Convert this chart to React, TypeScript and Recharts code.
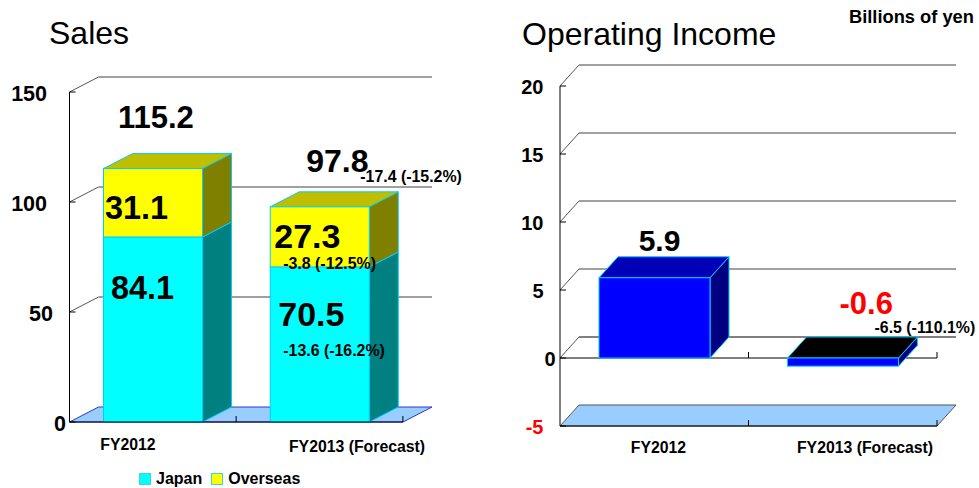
import React from 'react';
import { BarChart, Bar, XAxis, YAxis, CartesianGrid, Legend, LabelList } from 'recharts';

const FONT = '"Liberation Sans", Arial, sans-serif';

const CATEGORIES = ['FY2012', 'FY2013 (Forecast)'];

// Sales
const JAPAN = [84.1, 70.5];
const OVERSEAS = [31.1, 27.3];
const SALES_TOTAL = [115.2, 97.8];
const JAPAN_DELTA = ['', '-13.6 (-16.2%)'];
const OVERSEAS_DELTA = ['', '-3.8 (-12.5%)'];
const TOTAL_DELTA = ['', '-17.4 (-15.2%)'];
const SALES_TICKS = [0, 50, 100, 150];

// Operating income
const INCOME = [5.9, -0.6];
const INCOME_DELTA = ['', '-6.5 (-110.1%)'];
const INCOME_TICKS = [-5, 0, 5, 10, 15, 20];

const salesData = CATEGORIES.map((name, i) => ({
  name,
  japan: JAPAN[i],
  overseas: OVERSEAS[i],
  total: SALES_TOTAL[i],
  japanDelta: JAPAN_DELTA[i],
  overseasDelta: OVERSEAS_DELTA[i],
  totalDelta: TOTAL_DELTA[i],
}));

const incomeData = CATEGORIES.map((name, i) => ({
  name,
  income: INCOME[i],
  delta: INCOME_DELTA[i],
}));

const EDGE = '#00ccff';

// one bar as a front, top and side face
const Box = ({ x, y, width, height, dx, dy, front, top, side }: any) => {
  const y0 = Math.min(y, y + height);
  const h = Math.abs(height);
  const r = x + width;
  return (
    <g stroke={EDGE} strokeWidth={1}>
      <path d={`M${r},${y0}L${r + dx},${y0 - dy}V${y0 + h - dy}L${r},${y0 + h}Z`} fill={side} />
      <path d={`M${x},${y0}L${x + dx},${y0 - dy}H${r + dx}L${r},${y0}Z`} fill={top} />
      <rect x={x} y={y0} width={width} height={h} fill={front} />
    </g>
  );
};

// text placed relative to the corner of its bar
const barText = (offsets: number[][], size: number[], color: any = '#000') => (props: any) => {
  const { value, index } = props;
  if (value === '' || value === undefined) return null;
  const box = props.viewBox ?? props;
  const top = Math.min(box.y, box.y + box.height);
  const fill = typeof color === 'function' ? color(value) : color;
  return (
    <text
      x={box.x + offsets[index][0]}
      y={top + offsets[index][1]}
      fontFamily={FONT}
      fontWeight="bold"
      fontSize={size[index]}
      fill={fill}
    >
      {value}
    </text>
  );
};

// grid line with its diagonal up the side wall, the floor on the lowest one
const wallLine = (dx: number, dy: number, floorEdge: string, zeroAt?: (p: any) => number) => (props: any) => {
  const { x1, x2, y1, key } = props;
  const bottom = props.y + props.height;
  const isFloor = Math.abs(y1 - bottom) < 0.5;
  const isZero = zeroAt ? Math.abs(y1 - zeroAt(props)) < 0.5 : false;
  if (isFloor) {
    return (
      <path
        key={key}
        d={`M${x1},${y1}L${x1 + dx},${y1 - dy}H${x2 + dx}L${x2},${y1}Z`}
        fill="#99ccff"
        stroke={floorEdge}
        strokeWidth={1}
      />
    );
  }
  const mid = (x1 + x2) / 2;
  return (
    <g key={key} fill="none">
      <path d={`M${x1},${y1}L${x1 + dx},${y1 - dy}`} stroke="#555" strokeWidth={1} />
      <path
        d={`M${x1 + dx},${y1 - dy}H${x2 + dx}`}
        stroke={isZero ? '#000' : '#808080'}
        strokeWidth={isZero ? 1 : 1.5}
      />
      {isZero && (
        <path d={`M${x1},${y1}H${x2}V${y1 - 6}M${mid},${y1}V${y1 - 6}`} stroke="#000" strokeWidth={1} />
      )}
    </g>
  );
};

const valueTick = (rightEdge: Record<number, number>, size: number) => (props: any) => {
  const { x, y, payload } = props;
  return (
    <g>
      <path d={`M${x},${y}h6`} stroke="#000" strokeWidth={1} />
      <text
        x={rightEdge[payload.value]}
        y={y + 1}
        dy="0.36em"
        textAnchor="end"
        fontFamily={FONT}
        fontWeight="bold"
        fontSize={size}
        fill={payload.value < 0 ? '#ff0000' : '#000'}
      >
        {payload.value}
      </text>
    </g>
  );
};

const categoryTick = (band: number, centers: number[], baselines: number[]) => (props: any) => {
  const { x, y, index, payload } = props;
  const edge = x + band / 2;
  return (
    <g>
      <path d={`M${edge},${y}v-6`} stroke="#000" strokeWidth={1} />
      <text
        x={centers[index]}
        y={baselines[index]}
        textAnchor="middle"
        fontFamily={FONT}
        fontWeight="bold"
        fontSize={15.8}
        fill="#000"
      >
        {payload.value}
      </text>
    </g>
  );
};

const LegendRow = ({ payload }: any) => (
  <div style={{ display: 'flex', fontFamily: FONT, fontWeight: 'bold', fontSize: 16, lineHeight: '16px' }}>
    {(payload ?? []).map((item: any, i: number) => (
      <div key={item.value} style={{ display: 'flex', alignItems: 'center', marginRight: i === 0 ? 9 : 0 }}>
        <span
          style={{
            width: 10,
            height: 10,
            background: item.color,
            border: '1px solid #33ddcc',
            marginRight: 5,
          }}
        />
        {item.value}
      </div>
    ))}
  </div>
);

const Heading = ({ left, baseline, size, bold, children }: any) => (
  <div
    style={{
      position: 'absolute',
      left,
      top: baseline - 0.8305 * size,
      fontFamily: FONT,
      fontSize: size,
      lineHeight: 1,
      fontWeight: bold ? 'bold' : 'normal',
      whiteSpace: 'nowrap',
      color: '#000',
    }}
  >
    {children}
  </div>
);

const SalesChart = () => (
  <div style={{ position: 'absolute', left: 0, top: 0 }}>
    <BarChart
      width={490}
      height={488}
      data={salesData}
      margin={{ top: 92, right: 87, bottom: 0, left: 0 }}
      barSize={99}
      barCategoryGap={0}
    >
      <CartesianGrid vertical={false} horizontal={wallLine(29, 15, '#3333cc')} />
      <XAxis
        dataKey="name"
        height={66}
        interval={0}
        tickSize={0}
        tickMargin={0}
        tickLine={false}
        axisLine={{ stroke: '#000', strokeWidth: 1 }}
        tick={categoryTick(166.5, [128, 357], [450, 452])}
      />
      <YAxis
        width={69.5}
        domain={[0, 150]}
        ticks={SALES_TICKS}
        interval={0}
        tickSize={0}
        tickMargin={0}
        tickLine={false}
        axisLine={{ stroke: '#000', strokeWidth: 1 }}
        tick={valueTick({ 0: 66, 50: 53, 100: 47, 150: 47 }, 21.5)}
      />
      <Legend
        layout="horizontal"
        verticalAlign="middle"
        align="center"
        content={<LegendRow />}
        wrapperStyle={{ position: 'absolute', left: 139, top: 471, width: 'auto' }}
      />
      <Bar
        dataKey="japan"
        name="Japan"
        stackId="sales"
        fill="#00ffff"
        isAnimationActive={false}
        shape={(p: any) => <Box {...p} dx={29} dy={15} front="#00ffff" top="#00b3b3" side="#008080" />}
      >
        <LabelList dataKey="japan" content={barText([[7.5, 62], [8, 59]], [32.4, 34])} />
        <LabelList dataKey="japanDelta" content={barText([[0, 0], [13, 89]], [15.7, 15.9])} />
      </Bar>
      <Bar
        dataKey="overseas"
        name="Overseas"
        stackId="sales"
        fill="#ffff00"
        isAnimationActive={false}
        shape={(p: any) => <Box {...p} dx={29} dy={15} front="#ffff00" top="#bfbf00" side="#808000" />}
      >
        <LabelList dataKey="overseas" content={barText([[1.5, 50], [4, 41]], [32.4, 34])} />
        <LabelList dataKey="total" content={barText([[14.5, -41], [36, -35]], [31, 32])} />
        <LabelList dataKey="overseasDelta" content={barText([[0, 0], [13, 62]], [15.7, 15.9])} />
        <LabelList dataKey="totalDelta" content={barText([[0, 0], [90, -25]], [15.7, 15.9])} />
      </Bar>
    </BarChart>
  </div>
);

const IncomeChart = () => (
  <div style={{ position: 'absolute', left: 489.5, top: 0 }}>
    <BarChart
      width={489}
      height={488}
      data={incomeData}
      margin={{ top: 86, right: 42, bottom: 0, left: 0 }}
      barSize={111}
      barCategoryGap={0}
    >
      <CartesianGrid
        vertical={false}
        horizontal={wallLine(19, 21, '#555', (p: any) => p.y + (p.height * 20) / 25)}
      />
      <XAxis
        dataKey="name"
        height={62}
        interval={0}
        tickSize={0}
        tickMargin={0}
        tickLine={false}
        axisLine={{ stroke: '#000', strokeWidth: 1 }}
        tick={categoryTick(188.5, [168.5, 375], [452.5, 452.5])}
      />
      <YAxis
        width={70}
        domain={[-5, 20]}
        ticks={INCOME_TICKS}
        interval={0}
        tickSize={0}
        tickMargin={0}
        tickLine={false}
        axisLine={{ stroke: '#000', strokeWidth: 1 }}
        tick={valueTick({ [-5]: 53.5, 0: 65.5, 5: 53.5, 10: 53.5, 15: 53.5, 20: 53.5 }, 20)}
      />
      <Bar
        dataKey="income"
        fill="#0000ff"
        isAnimationActive={false}
        shape={(p: any) => (
          <Box
            {...p}
            dx={19}
            dy={21}
            front="#0000ff"
            top={p.income < 0 ? '#000000' : '#0000b8'}
            side="#000080"
          />
        )}
      >
        <LabelList
          dataKey="income"
          content={barText([[39.7, -27], [52, -44]], [30, 31], (v: number) => (v < 0 ? '#ff0000' : '#000'))}
        />
        <LabelList dataKey="delta" content={barText([[0, 0], [87, -25]], [15.7, 15.9])} />
      </Bar>
    </BarChart>
  </div>
);

export default function App() {
  return (
    <div style={{ position: 'absolute', left: 0, top: 0, width: 979, height: 488, background: '#fff', overflow: 'hidden' }}>
      <SalesChart />
      <IncomeChart />
      <Heading left={49} baseline={44} size={32}>Sales</Heading>
      <Heading left={522} baseline={44.3} size={32}>Operating Income</Heading>
      <Heading left={849} baseline={22.7} size={18.3} bold>Billions of yen</Heading>
    </div>
  );
}
